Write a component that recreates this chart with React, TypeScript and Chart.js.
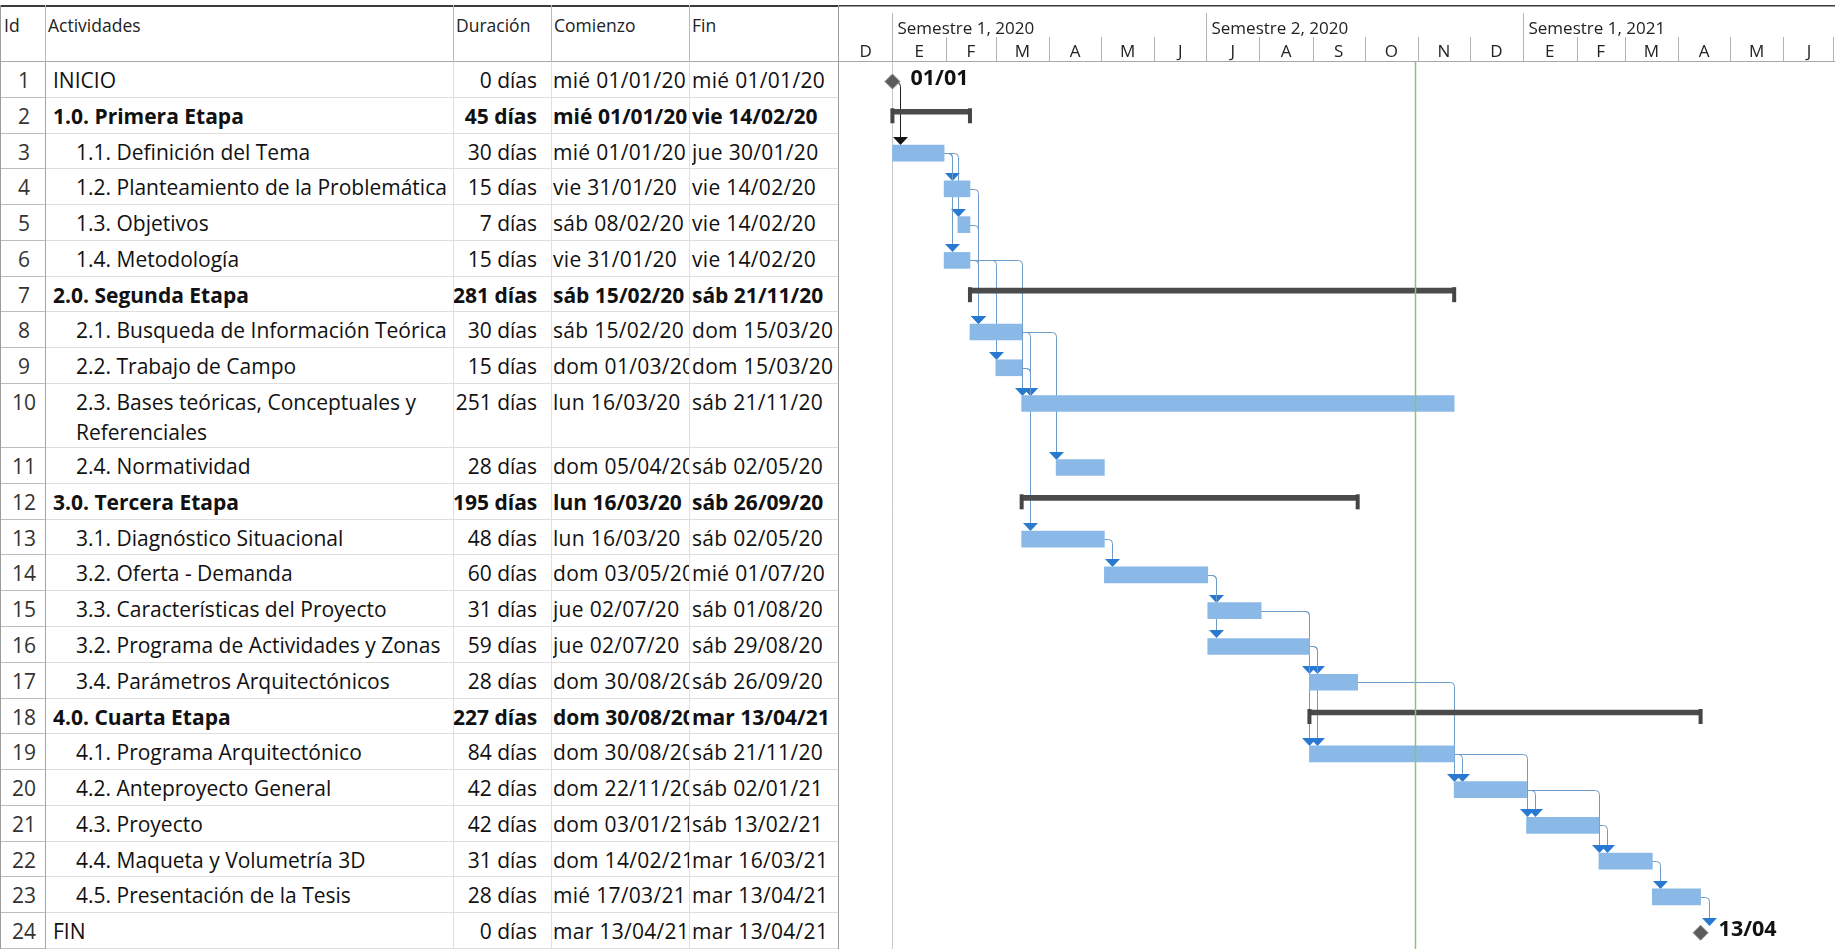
import React, { useEffect, useRef } from 'react';
import { Chart, registerables } from 'chart.js';

Chart.register(...registerables);

// ---------------- data ----------------
const ids = [1, 2, 3, 4, 5, 6, 7, 8, 9, 10, 11, 12, 13, 14, 15, 16, 17, 18, 19, 20, 21, 22, 23, 24];

const activities = [
  'INICIO',
  '1.0. Primera Etapa',
  '1.1. Definición del Tema',
  '1.2. Planteamiento de la Problemática',
  '1.3. Objetivos',
  '1.4. Metodología',
  '2.0. Segunda Etapa',
  '2.1. Busqueda de Información Teórica',
  '2.2. Trabajo de Campo',
  '2.3. Bases teóricas, Conceptuales y Referenciales',
  '2.4. Normatividad',
  '3.0. Tercera Etapa',
  '3.1. Diagnóstico Situacional',
  '3.2. Oferta - Demanda',
  '3.3. Características del Proyecto',
  '3.2. Programa de Actividades y Zonas',
  '3.4. Parámetros Arquitectónicos',
  '4.0. Cuarta Etapa',
  '4.1. Programa Arquitectónico',
  '4.2. Anteproyecto General',
  '4.3. Proyecto',
  '4.4. Maqueta y Volumetría 3D',
  '4.5. Presentación de la Tesis',
  'FIN',
];

const kinds = [
  'milestone', 'summary', 'task', 'task', 'task', 'task',
  'summary', 'task', 'task', 'task', 'task',
  'summary', 'task', 'task', 'task', 'task', 'task',
  'summary', 'task', 'task', 'task', 'task', 'task', 'milestone',
];

const indentLevels = [0, 0, 1, 1, 1, 1, 0, 1, 1, 1, 1, 0, 1, 1, 1, 1, 1, 0, 1, 1, 1, 1, 1, 0];

const durations = [
  '0 días', '45 días', '30 días', '15 días', '7 días', '15 días',
  '281 días', '30 días', '15 días', '251 días', '28 días',
  '195 días', '48 días', '60 días', '31 días', '59 días', '28 días',
  '227 días', '84 días', '42 días', '42 días', '31 días', '28 días', '0 días',
];

const startLabels = [
  'mié 01/01/20', 'mié 01/01/20', 'mié 01/01/20', 'vie 31/01/20', 'sáb 08/02/20', 'vie 31/01/20',
  'sáb 15/02/20', 'sáb 15/02/20', 'dom 01/03/20', 'lun 16/03/20', 'dom 05/04/20',
  'lun 16/03/20', 'lun 16/03/20', 'dom 03/05/20', 'jue 02/07/20', 'jue 02/07/20', 'dom 30/08/20',
  'dom 30/08/20', 'dom 30/08/20', 'dom 22/11/20', 'dom 03/01/21', 'dom 14/02/21', 'mié 17/03/21', 'mar 13/04/21',
];

const finishLabels = [
  'mié 01/01/20', 'vie 14/02/20', 'jue 30/01/20', 'vie 14/02/20', 'vie 14/02/20', 'vie 14/02/20',
  'sáb 21/11/20', 'dom 15/03/20', 'dom 15/03/20', 'sáb 21/11/20', 'sáb 02/05/20',
  'sáb 26/09/20', 'sáb 02/05/20', 'mié 01/07/20', 'sáb 01/08/20', 'sáb 29/08/20', 'sáb 26/09/20',
  'mar 13/04/21', 'sáb 21/11/20', 'sáb 02/01/21', 'sáb 13/02/21', 'mar 16/03/21', 'mar 13/04/21', 'mar 13/04/21',
];

// finish-to-start links [predecessor id, successor id]
const links: [number, number][] = [
  [1, 3], [3, 4], [3, 5], [3, 6], [4, 8], [5, 8], [6, 8], [6, 9], [6, 10],
  [8, 10], [9, 10], [8, 11], [9, 13], [13, 14], [14, 15], [14, 16],
  [15, 17], [16, 17], [15, 19], [16, 19], [17, 20], [19, 20], [19, 21],
  [20, 21], [20, 22], [21, 22], [22, 23], [23, 24],
];

const columnTitles = ['Id', 'Actividades', 'Duración', 'Comienzo', 'Fin'];
const monthLabels = ['D', 'E', 'F', 'M', 'A', 'M', 'J', 'J', 'A', 'S', 'O', 'N', 'D', 'E', 'F', 'M', 'A', 'M', 'J'];
const semesterLabels = ['Semestre 1, 2020', 'Semestre 2, 2020', 'Semestre 1, 2021'];
const semesterStarts = ['01/01/20', '01/07/20', '01/01/21'];
const TIMELINE_START = '01/12/19';
const TIMELINE_END = '01/07/21';
const STATUS_DATE = '30/10/20';
const wrappedRows = [10];

// ---------------- layout ----------------
const W = 1835;
const H = 949;
const RULE_Y = 5;
const HEAD_B = 62;
const COLX = [0, 45, 453, 551, 689, 839];
const WRAP_H = 64;
const FONT = '"Open Sans", "DejaVu Sans", sans-serif';
const BODY_FS = 21;
const HEAD_FS = 17.5;

const ROW_H = (H - HEAD_B - WRAP_H * wrappedRows.length) / (ids.length - wrappedRows.length);
const rowH = ids.map((id) => (wrappedRows.includes(id) ? WRAP_H : ROW_H));
const rowTop: number[] = [];
let acc = 0;
rowH.forEach((h) => {
  rowTop.push(acc);
  acc += h;
});
const BODY_H = acc;

// ---------------- date helpers ----------------
const DAY = 86400000;
const parseDate = (s: string) => {
  const p = s.trim().split(' ').pop()!.split('/');
  return Date.UTC(2000 + Number(p[2]), Number(p[1]) - 1, Number(p[0]));
};
const T0 = parseDate(TIMELINE_START);
const dayOf = (s: string) => Math.round((parseDate(s) - T0) / DAY);
const XMAX = dayOf(TIMELINE_END);

const plotStart: number[] = [];
const plotEnd: number[] = [];
ids.forEach((id, i) => {
  if (kinds[i] === 'milestone') {
    const preds = links.filter((l) => l[1] === id).map((l) => plotEnd[l[0] - 1]);
    const v = preds.length ? Math.max(...preds) : dayOf(startLabels[i]);
    plotStart.push(v);
    plotEnd.push(v);
  } else {
    plotStart.push(dayOf(startLabels[i]));
    plotEnd.push(dayOf(finishLabels[i]) + 1);
  }
});
const barCenter = ids.map((_, i) => rowTop[i] + (kinds[i] === 'summary' ? 14 : 19.5));

const taskData: { x: [number, number]; y: number }[] = [];
const summaryData: { x: [number, number]; y: number }[] = [];
const milestoneData: { x: number; y: number }[] = [];
ids.forEach((_, i) => {
  if (kinds[i] === 'task') taskData.push({ x: [plotStart[i], plotEnd[i]], y: barCenter[i] });
  else if (kinds[i] === 'summary') summaryData.push({ x: [plotStart[i], plotEnd[i]], y: barCenter[i] });
  else milestoneData.push({ x: plotStart[i], y: barCenter[i] });
});

const monthStartDays = monthLabels.map((_, k) => {
  const d0 = new Date(T0);
  return Math.round((Date.UTC(d0.getUTCFullYear(), d0.getUTCMonth() + k, 1) - T0) / DAY);
});

// ---------------- plugin ----------------
const ganttPlugin = {
  id: 'ganttDecor',
  beforeDatasetsDraw(chart: any) {
    const { ctx, chartArea } = chart;
    const X = (d: number) => chart.scales.x.getPixelForValue(d);
    const Y = (v: number) => chart.scales.y.getPixelForValue(v);
    ctx.save();
    // project start line
    const ps = Math.round(X(plotStart[0])) + 0.5;
    ctx.strokeStyle = '#c9c9c9';
    ctx.lineWidth = 1;
    ctx.beginPath();
    ctx.moveTo(ps, chartArea.top);
    ctx.lineTo(ps, chartArea.bottom);
    ctx.stroke();
    // links
    links.forEach(([p, s]) => {
      const pi = p - 1;
      const si = s - 1;
      const x0 = X(plotEnd[pi]);
      const y0 = Math.round(Y(barCenter[pi])) + 0.5;
      const xd = Math.round(Math.max(x0 + 8, X(plotStart[si]))) + 0.5;
      const tip = Math.round(Y(barCenter[si]) - (kinds[si] === 'milestone' ? 7 : 8));
      const r = 4;
      const fromMs = kinds[pi] === 'milestone';
      ctx.strokeStyle = fromMs ? '#1e1e1e' : '#6e9cc8';
      ctx.lineWidth = 1;
      ctx.beginPath();
      ctx.moveTo(x0, y0);
      ctx.lineTo(xd - r, y0);
      ctx.arcTo(xd, y0, xd, y0 + r, r);
      ctx.lineTo(xd, tip - 7);
      ctx.stroke();
      ctx.fillStyle = fromMs ? '#141414' : '#2a79d0';
      ctx.beginPath();
      ctx.moveTo(xd - 7.5, tip - 8);
      ctx.lineTo(xd + 7.5, tip - 8);
      ctx.lineTo(xd, tip);
      ctx.closePath();
      ctx.fill();
    });
    ctx.restore();
  },
  afterDatasetsDraw(chart: any) {
    const { ctx, chartArea } = chart;
    const X = (d: number) => chart.scales.x.getPixelForValue(d);
    const Y = (v: number) => chart.scales.y.getPixelForValue(v);
    ctx.save();
    // summary end caps
    ctx.fillStyle = '#454545';
    ids.forEach((_, i) => {
      if (kinds[i] !== 'summary') return;
      const top = Y(rowTop[i] + 10.5);
      const h = Y(rowTop[i] + 25.5) - top;
      [plotStart[i], plotEnd[i]].forEach((d) => ctx.fillRect(X(d) - 2, top, 4, h));
    });
    // status date line
    const sx = Math.round(X(dayOf(STATUS_DATE))) + 0.5;
    ctx.strokeStyle = '#8cc17a';
    ctx.lineWidth = 1.5;
    ctx.beginPath();
    ctx.moveTo(sx, chartArea.top);
    ctx.lineTo(sx, chartArea.bottom);
    ctx.stroke();
    // milestone date labels
    ctx.fillStyle = '#111';
    ctx.font = `bold 21.5px ${FONT}`;
    ctx.textBaseline = 'middle';
    ctx.textAlign = 'left';
    ids.forEach((_, i) => {
      if (kinds[i] !== 'milestone') return;
      const lbl = finishLabels[i].split(' ')[1].slice(0, 5);
      ctx.fillText(lbl, X(plotStart[i]) + 18, Y(barCenter[i]) - 3);
    });
    ctx.restore();
  },
  afterDraw(chart: any) {
    const { ctx, width } = chart;
    const X = (d: number) => chart.scales.x.getPixelForValue(d);
    ctx.save();
    // top rule and header bottom
    ctx.fillStyle = '#3a3a3a';
    ctx.fillRect(0, RULE_Y, width, 1.5);
    ctx.fillStyle = '#a9a9a9';
    ctx.fillRect(0, HEAD_B - 1, width, 1);
    const semDays = semesterStarts.map(dayOf);
    ctx.strokeStyle = '#b3b3b3';
    ctx.lineWidth = 1;
    // month separators and letters
    ctx.fillStyle = '#222';
    ctx.font = `17px ${FONT}`;
    ctx.textAlign = 'center';
    ctx.textBaseline = 'middle';
    monthLabels.forEach((m, k) => {
      const a = monthStartDays[k];
      const b = k + 1 < monthStartDays.length ? monthStartDays[k + 1] : XMAX;
      const xa = Math.round(X(a)) + 0.5;
      if (k > 0 && !semDays.includes(a)) {
        ctx.beginPath();
        ctx.moveTo(xa, 37);
        ctx.lineTo(xa, HEAD_B - 1);
        ctx.stroke();
      }
      ctx.fillText(m, (X(a) + X(b)) / 2, 52);
    });
    // end-of-timeline separator
    const xe = Math.min(Math.round(X(XMAX)) - 0.5, width - 1.5);
    ctx.beginPath();
    ctx.moveTo(xe, 37);
    ctx.lineTo(xe, HEAD_B - 1);
    ctx.stroke();
    // semesters
    ctx.textAlign = 'left';
    semesterLabels.forEach((s, k) => {
      const xs = Math.round(X(semDays[k])) + 0.5;
      ctx.beginPath();
      ctx.moveTo(xs, 13);
      ctx.lineTo(xs, HEAD_B - 1);
      ctx.stroke();
      ctx.fillText(s, xs + 5, 29);
    });
    ctx.restore();
  },
};

// ---------------- component ----------------
export default function App() {
  const canvasRef = useRef<HTMLCanvasElement>(null);

  useEffect(() => {
    document.body.style.margin = '0';
    const chart = new Chart(canvasRef.current!, {
      type: 'bar',
      data: {
        datasets: [
          {
            type: 'bar',
            label: 'Tareas',
            data: taskData as any,
            backgroundColor: '#8ab9e8',
            barThickness: 16,
            grouped: false,
            indexAxis: 'y',
          } as any,
          {
            type: 'bar',
            label: 'Resumen',
            data: summaryData as any,
            backgroundColor: '#4b4b4b',
            barThickness: 5,
            grouped: false,
            indexAxis: 'y',
          } as any,
          {
            type: 'scatter',
            label: 'Hitos',
            data: milestoneData as any,
            pointStyle: 'rectRot',
            pointRadius: 7.5,
            backgroundColor: '#5c5c5c',
            borderColor: '#8a8a8a',
            borderWidth: 1,
            clip: false,
          } as any,
        ],
      },
      options: {
        indexAxis: 'y',
        animation: false,
        responsive: false,
        events: [],
        layout: { autoPadding: false, padding: { top: HEAD_B, left: 0, right: 0, bottom: 0 } },
        scales: {
          x: { type: 'linear', min: 0, max: XMAX, display: false },
          y: { type: 'linear', min: 0, max: BODY_H, reverse: true, display: false, offset: false },
        },
        plugins: { legend: { display: false }, tooltip: { enabled: false } },
      } as any,
      plugins: [ganttPlugin],
    });
    return () => chart.destroy();
  }, []);

  const vline = (x: number, top: number, height: number, color: string, key: string) => (
    <div key={key} style={{ position: 'absolute', left: x, top, width: 1, height, background: color }} />
  );

  const cellBase: React.CSSProperties = {
    position: 'absolute',
    top: 0,
    paddingTop: 3,
    lineHeight: '30px',
    fontSize: BODY_FS,
    whiteSpace: 'nowrap',
    overflow: 'hidden',
    boxSizing: 'border-box',
    color: '#111',
  };

  const headerX = [4, 48, 456, 554, 692];

  return (
    <div
      style={{
        position: 'absolute',
        left: 0,
        top: 0,
        width: W,
        height: H,
        overflow: 'hidden',
        background: '#fff',
        fontFamily: FONT,
      }}
    >
      {/* table header */}
      <div style={{ position: 'absolute', left: 0, top: RULE_Y, width: COLX[5], height: 1.5, background: '#3a3a3a' }} />
      <div style={{ position: 'absolute', left: 0, top: HEAD_B - 1, width: COLX[5], height: 1, background: '#a9a9a9' }} />
      {columnTitles.map((t, k) => (
        <div
          key={'h' + k}
          style={{
            position: 'absolute',
            left: headerX[k],
            top: 12,
            lineHeight: '26px',
            fontSize: HEAD_FS,
            color: '#222',
            whiteSpace: 'nowrap',
          }}
        >
          {t}
        </div>
      ))}
      {[1, 2, 3, 4].map((k) => vline(COLX[k], RULE_Y, HEAD_B - RULE_Y, '#b8b8b8', 'hv' + k))}

      {/* table body */}
      {ids.map((id, i) => {
        const top = HEAD_B + rowTop[i];
        const h = rowH[i];
        const isBold = kinds[i] === 'summary';
        const bold = isBold ? 700 : 400;
        const spacing = isBold ? 0 : 0.3;
        const actLeft = COLX[1] + (indentLevels[i] ? 31 : 8);
        const wrap = wrappedRows.includes(id);
        return (
          <div key={'r' + id} style={{ position: 'absolute', left: 0, top, width: COLX[5], height: h }}>
            <div style={{ ...cellBase, left: 2, width: 44, textAlign: 'center', color: '#333' }}>{id}</div>
            <div
              style={{
                ...cellBase,
                left: actLeft,
                width: COLX[2] - actLeft - 2,
                fontWeight: bold,
                whiteSpace: wrap ? 'normal' : 'nowrap',
                height: h,
              }}
            >
              {activities[i]}
            </div>
            <div style={{ ...cellBase, left: COLX[2], width: COLX[3] - COLX[2] - 14, textAlign: 'right', fontWeight: bold }}>
              {durations[i]}
            </div>
            <div
              style={{
                ...cellBase,
                left: COLX[3] + 2,
                width: COLX[4] - COLX[3] - 2,
                fontWeight: bold,
                letterSpacing: spacing,
              }}
            >
              {startLabels[i]}
            </div>
            <div
              style={{
                ...cellBase,
                left: COLX[4] + 3,
                width: COLX[5] - COLX[4] - 3,
                fontWeight: bold,
                letterSpacing: spacing,
              }}
            >
              {finishLabels[i]}
            </div>
            <div style={{ position: 'absolute', left: 0, top: h - 1, width: COLX[1], height: 1, background: '#bdbdbd' }} />
            <div
              style={{
                position: 'absolute',
                left: COLX[1],
                top: h - 1,
                width: COLX[5] - COLX[1],
                height: 1,
                background: '#dedede',
              }}
            />
          </div>
        );
      })}
      {[2, 3, 4].map((k) => vline(COLX[k], HEAD_B, H - HEAD_B, '#e0e0e0', 'bv' + k))}
      {vline(0, RULE_Y, H - RULE_Y, '#9d9d9d', 'v0')}
      {vline(COLX[1], HEAD_B, H - HEAD_B, '#a5a5a5', 'v1')}
      {vline(COLX[5] - 1, RULE_Y, H - RULE_Y, '#9d9d9d', 'v5')}

      <canvas
        ref={canvasRef}
        width={W - COLX[5]}
        height={H}
        style={{ position: 'absolute', left: COLX[5], top: 0 }}
      />
    </div>
  );
}
